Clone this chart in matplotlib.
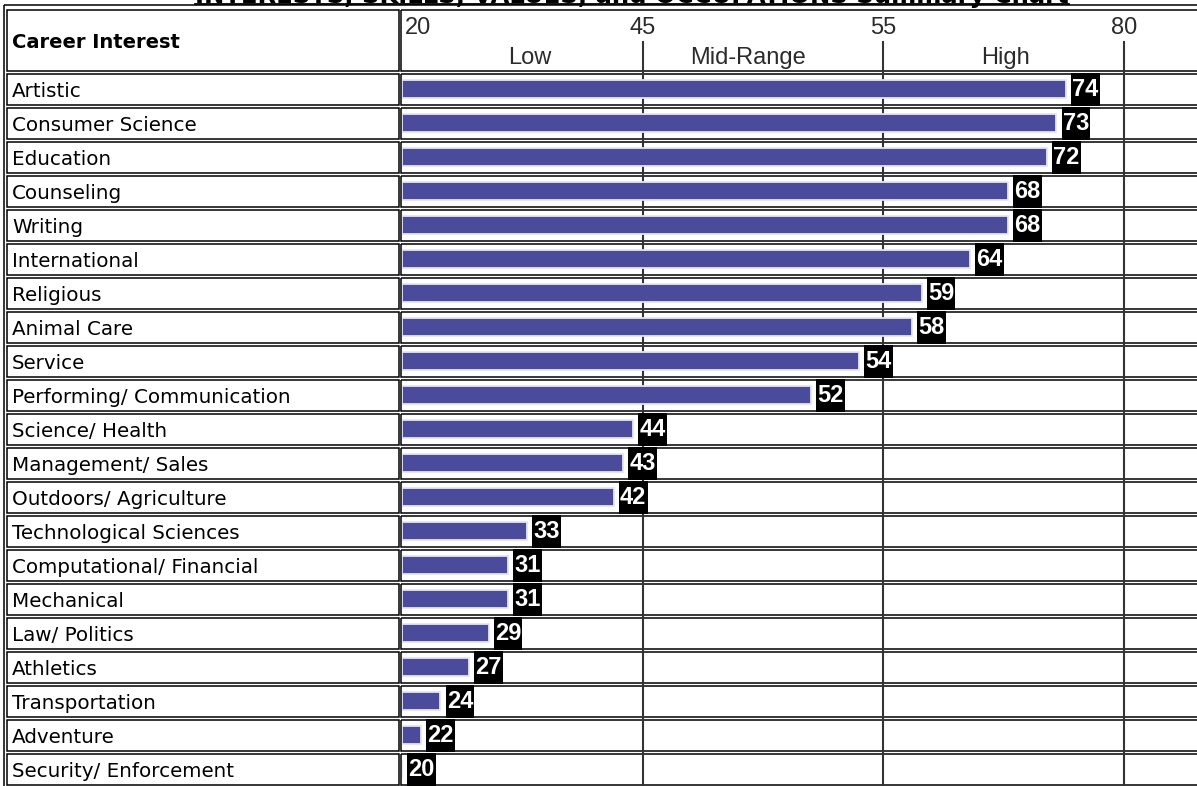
import matplotlib
matplotlib.use("Agg")
import matplotlib.pyplot as plt
import matplotlib.transforms as mtransforms
from matplotlib.patches import Rectangle
import numpy as np

# datos del grafico
careers = [
    "Artistic", "Consumer Science", "Education", "Counseling", "Writing",
    "International", "Religious", "Animal Care", "Service",
    "Performing/ Communication", "Science/ Health", "Management/ Sales",
    "Outdoors/ Agriculture", "Technological Sciences",
    "Computational/ Financial", "Mechanical", "Law/ Politics", "Athletics",
    "Transportation", "Adventure", "Security/ Enforcement",
]
scores = [74, 73, 72, 68, 68, 64, 59, 58, 54, 52, 44, 43, 42, 33, 31, 31,
          29, 27, 24, 22, 20]
scale_ticks = [20, 45, 55, 80]
band_names = ["Low", "Mid-Range", "High"]
band_pos = [33.3, 49.4, 67.7]
title = "INTERESTS, SKILLS, VALUES, and OCCUPATIONS Summary Chart"

# escala por tramos: cada tramo ocupa el mismo ancho
breaks = [20, 45, 55, 80, 105]
units = [0, 1, 2, 3, 4]


def forward(x):
    return np.interp(x, breaks, units)


def inverse(u):
    return np.interp(u, units, breaks)


W, H = 1197, 786
TOP = 6
HEAD_BOT = 72
ROW_H = 34
SPLIT = 400
BAR_LEFT = 402

fig = plt.figure(figsize=(W / 100, H / 100), dpi=100)
fig.patch.set_facecolor("white")

bg = fig.add_axes([0, 0, 1, 1])
bg.set_xlim(0, W)
bg.set_ylim(H, 0)
bg.axis("off")

lw = 1.1
# borde exterior de la tabla
bg.add_patch(Rectangle((4, TOP - 1), W + 20, H + 20, fill=False,
                       edgecolor="black", linewidth=lw))

row_edges = [TOP + 2, HEAD_BOT] + [HEAD_BOT + ROW_H * (i + 1) for i in range(len(careers))]
for k in range(len(row_edges) - 1):
    y0, y1 = row_edges[k], row_edges[k + 1]
    for x0, x1 in [(7, SPLIT - 1), (SPLIT + 1, W + 20)]:
        bg.add_patch(Rectangle((x0, y0 + 1.5), x1 - x0, y1 - y0 - 3,
                               fill=False, edgecolor="black", linewidth=lw))

# columna izquierda
bg.text(12, 48, "Career Interest", fontsize=14, fontweight="bold",
        family="DejaVu Sans", va="baseline", ha="left")
for i, name in enumerate(careers):
    bg.text(12, HEAD_BOT + ROW_H * i + 25, name, fontsize=14.3,
            family="DejaVu Sans", va="baseline", ha="left")

# titulo (cortado arriba, como en la referencia)
t = bg.text(632, 2.5, title, fontsize=17.5, fontweight="bold",
            family="DejaVu Sans", ha="center", va="baseline")

# barras
ax = fig.add_axes([BAR_LEFT / W, 0, (W - BAR_LEFT) / W, (H - HEAD_BOT) / H])
ax.set_xscale("function", functions=(forward, inverse))
ax.set_xlim(20, 87.6)
ax.set_ylim(len(careers) - 0.5, -0.5)
ax.axis("off")

y = np.arange(len(careers))
vals = np.array(scores)
ax.barh(y, vals - 20, left=20, height=0.54, color="#4b4b9b",
        edgecolor="#e4e4f4", linewidth=1.3, zorder=2)

head_top = (H - 42) / (H - HEAD_BOT)
for v in scale_ticks[1:]:
    ax.axvline(v, ymin=0, ymax=head_top, color="#333333", linewidth=1.5,
               clip_on=False, zorder=1)

for i, v in enumerate(scores):
    ax.annotate(str(v), xy=(v, i), xytext=(4.5, -0.5), textcoords="offset points",
                ha="left", va="center", color="white", fontsize=17,
                fontweight="bold", family="Liberation Sans", zorder=3,
                bbox=dict(boxstyle="square,pad=0.05", facecolor="black",
                          edgecolor="none", mutation_aspect=4.2))

# encabezado de la escala
hdr = mtransforms.blended_transform_factory(ax.transData, bg.transData)
for v in scale_ticks:
    if v == scale_ticks[0]:
        tr = mtransforms.offset_copy(hdr, fig=fig, x=3, y=0, units="dots")
        ax.text(v, 34, str(v), transform=tr, ha="left", va="baseline",
                fontsize=17, family="Liberation Sans", color="#2b2b2b",
                clip_on=False)
    else:
        ax.text(v, 34, str(v), transform=hdr, ha="center", va="baseline",
                fontsize=17, family="Liberation Sans", color="#2b2b2b",
                clip_on=False)
for name, p in zip(band_names, band_pos):
    ax.text(p, 64, name, transform=hdr, ha="center", va="baseline",
            fontsize=17, family="Liberation Sans", color="#2b2b2b",
            clip_on=False)

# subrayado del titulo
fig.canvas.draw()
bb = t.get_window_extent().transformed(bg.transData.inverted())
bg.plot([bb.x0, bb.x1], [4, 4], color="black", linewidth=1.3)

fig.savefig("out.png", dpi=100)
